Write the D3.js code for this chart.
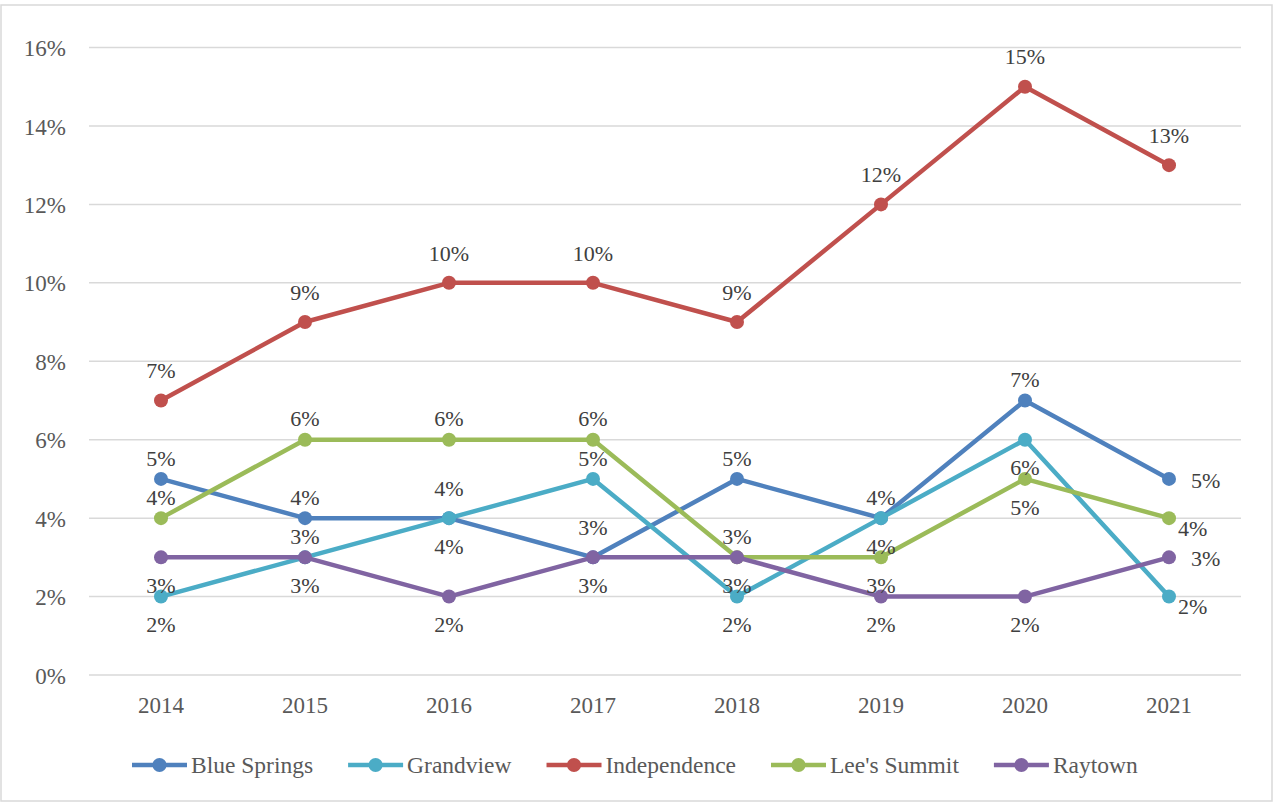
<!DOCTYPE html>
<html>
<head>
<meta charset="utf-8">
<style>
body { margin: 0; background: #fff; }
</style>
</head>
<body>
<script src="https://cdnjs.cloudflare.com/ajax/libs/d3/7.8.5/d3.min.js"></script>
<script>
// data
var years = ["2014", "2015", "2016", "2017", "2018", "2019", "2020", "2021"];
var cities = ["Blue Springs", "Grandview", "Independence", "Lee's Summit", "Raytown"];
var blueSprings  = [5, 4, 4, 3, 5, 4, 7, 5];
var grandview    = [2, 3, 4, 5, 2, 4, 6, 2];
var independence = [7, 9, 10, 10, 9, 12, 15, 13];
var leesSummit   = [4, 6, 6, 6, 3, 3, 5, 4];
var raytown      = [3, 3, 2, 3, 3, 2, 2, 3];
var yTicks = [0, 2, 4, 6, 8, 10, 12, 14, 16];

var colors = ["#4f81bd", "#4bacc6", "#c0504d", "#9bbb59", "#8064a2"];
// where each data label sits: a = above, A = further above, b = below, r = right, rb = right/below
var labelPlace = [
  ["a", "a", "A", "A", "a", "a", "a", "r"],
  ["b", "a", "b", "a", "b", "b", "b", "rb"],
  ["A", "A", "A", "A", "A", "A", "A", "A"],
  ["a", "a", "a", "a", "a", "b", "b", "rb"],
  ["b", "b", "b", "b", "b", "b", "b", "r"]
];

var series = [blueSprings, grandview, independence, leesSummit, raytown].map(function(v, i) {
  return { name: cities[i], values: v, color: colors[i], place: labelPlace[i] };
});

var W = 1273, H = 802;
var margin = { top: 47.5, right: 32, bottom: 127, left: 89 };

var svg = d3.select("body").append("svg")
  .attr("width", W)
  .attr("height", H);

// serif text helper
function serif(sel, size) {
  return sel.attr("font-family", "Liberation Serif")
    .style("font-family", "'Liberation Serif'")
    .style("font-size", size + "px");
}

// outer frame
svg.append("rect")
  .attr("x", 1).attr("y", 5)
  .attr("width", W - 2).attr("height", H - 6)
  .attr("fill", "#fff")
  .attr("stroke", "#d9d9d9")
  .attr("stroke-width", 1.5);

var x = d3.scaleBand()
  .domain(years)
  .range([margin.left, W - margin.right]);

var y = d3.scaleLinear()
  .domain([0, 16])
  .range([H - margin.bottom, margin.top]);

// gridlines
svg.append("g")
  .selectAll("line")
  .data(yTicks)
  .enter().append("line")
    .attr("x1", margin.left)
    .attr("x2", W - margin.right)
    .attr("y1", function(d) { return y(d); })
    .attr("y2", function(d) { return y(d); })
    .attr("stroke", "#d9d9d9")
    .attr("stroke-width", 1.5);

// y axis labels
var yAxis = svg.append("g")
  .attr("transform", "translate(" + (margin.left - 12) + ",0)")
  .call(d3.axisLeft(y).tickValues(yTicks).tickSize(0).tickFormat(function(d) { return d + "%"; }));
yAxis.attr("font-family", "Liberation Serif");
yAxis.select(".domain").remove();
serif(yAxis.selectAll("text")
  .attr("x", -11)
  .attr("dy", "0.35em")
  .attr("fill", "#595959"), 23);

// x axis labels
var xAxis = svg.append("g")
  .attr("transform", "translate(0," + y(0) + ")")
  .call(d3.axisBottom(x).tickSize(0));
xAxis.attr("font-family", "Liberation Serif");
xAxis.select(".domain").remove();
serif(xAxis.selectAll("text")
  .attr("y", 30)
  .attr("dy", "0.35em")
  .attr("fill", "#595959"), 23);

var cx = function(i) { return x(years[i]) + x.bandwidth() / 2; };

var line = d3.line()
  .x(function(d, i) { return cx(i); })
  .y(function(d) { return y(d); });

var g = svg.selectAll(".series")
  .data(series)
  .enter().append("g")
    .attr("class", "series");

g.append("path")
  .attr("fill", "none")
  .attr("stroke", function(d) { return d.color; })
  .attr("stroke-width", 4.5)
  .attr("stroke-linejoin", "round")
  .attr("d", function(d) { return line(d.values); });

g.selectAll("circle")
  .data(function(d) { return d.values.map(function(v) { return { v: v, c: d.color }; }); })
  .enter().append("circle")
    .attr("cx", function(d, i) { return cx(i); })
    .attr("cy", function(d) { return y(d.v); })
    .attr("r", 7)
    .attr("fill", function(d) { return d.c; });

// data labels on top of every line
var offs = {
  a:  { dx: 0,  dy: -21, anchor: "middle" },
  A:  { dx: 0,  dy: -30, anchor: "middle" },
  b:  { dx: 0,  dy: 28,  anchor: "middle" },
  r:  { dx: 22, dy: 1,   anchor: "start" },
  rb: { dx: 9,  dy: 10,  anchor: "start" }
};
series.forEach(function(s) {
  serif(svg.append("g").selectAll("text")
    .data(s.values)
    .enter().append("text")
      .attr("x", function(d, i) { return cx(i) + offs[s.place[i]].dx; })
      .attr("y", function(d, i) { return y(d) + offs[s.place[i]].dy; })
      .attr("dy", "0.35em")
      .attr("fill", "#404040")
      .attr("text-anchor", function(d, i) { return offs[s.place[i]].anchor; })
      .text(function(d) { return d + "%"; }), 22);
});

// legend
var legend = svg.append("g")
  .attr("transform", "translate(0,765)");
var lx = 132;
series.forEach(function(s) {
  var it = legend.append("g").attr("transform", "translate(" + lx + ",0)");
  it.append("line")
    .attr("x1", 0).attr("x2", 55)
    .attr("stroke", s.color)
    .attr("stroke-width", 4.5);
  it.append("circle")
    .attr("cx", 27.5).attr("r", 7)
    .attr("fill", s.color);
  var t = serif(it.append("text")
    .attr("x", 59)
    .attr("dy", "0.35em")
    .attr("fill", "#595959")
    .text(s.name), 23.5);
  lx += 59 + t.node().getComputedTextLength() + 35;
});
</script>
</body>
</html>
